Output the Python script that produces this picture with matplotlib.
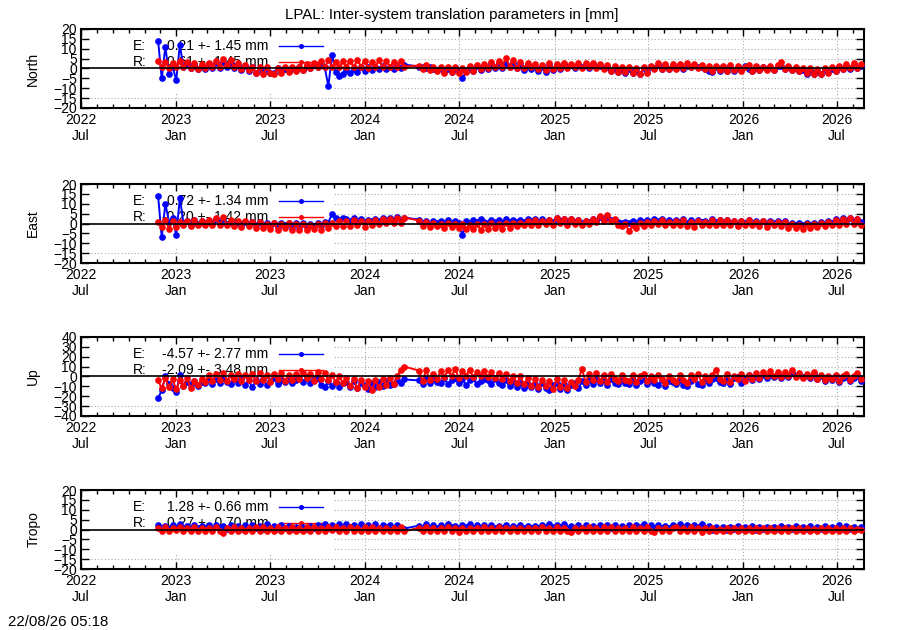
import numpy as np
import pandas as pd
import matplotlib
matplotlib.use('Agg')
import matplotlib.pyplot as plt
import matplotlib.dates as mdates
from matplotlib.patches import Rectangle
from matplotlib.lines import Line2D

plt.rcParams['font.family'] = ['Liberation Sans', 'DejaVu Sans']

nan = np.nan

# weekly samples, one row = 13 weeks
start_date = '2022-11-27'
end_date = '2026-08-16'

north_e = [
    [14.0, -5.0, 11.0, -3.0, 1.0, -6.0, 12.0, 0.5, 2.5, 0.0, 2.0, -0.5, 1.5],
    [-0.5, 2.5, 0.0, 3.0, 0.0, 3.5, 0.5, 3.0, 0.0, 2.0, -1.0, 1.5, -1.5],
    [1.0, -2.5, 0.0, -2.0, 0.0, -2.5, -2.5, 0.0, -2.0, -0.5, -1.5, 0.0, -1.0],
    [0.5, -1.0, 1.5, 0.0, 2.0, 0.5, 2.5, 0.5, -9.0, 7.0, -2.0, -4.0, -3.0],
    [-1.0, -2.5, -0.5, -2.0, 0.5, -1.5, 1.0, -1.0, 1.0, -0.5, 1.5, -0.5, 1.0],
    [-0.5, 1.5, 0.0, 2.0, nan, nan, nan, 1.0, 0.5, 0.0, 0.5, -0.5, -1.0],
    [0.0, -2.0, -0.5, -2.0, 0.0, -1.5, -5.0, -1.5, 1.0, -1.5, 1.5, -1.0, 1.5],
    [-0.5, 2.5, 0.0, 3.0, 0.0, 2.5, 0.5, 3.0, 0.0, 2.5, -1.0, 1.5, -0.5],
    [1.0, -1.5, 1.0, -2.0, 2.0, -1.0, 2.0, -0.5, 2.5, 0.5, 2.0, 0.0, 2.0],
    [0.5, 2.0, 0.0, 2.5, 0.5, 1.5, 0.0, 1.0, -1.5, 0.0, -2.0, -0.5, -2.5],
    [-0.5, -2.5, -0.5, -3.0, 0.0, -2.0, 0.5, 0.0, 2.0, -0.5, 2.0, -0.5, 1.5],
    [0.0, 2.0, -0.5, 1.5, 0.5, 2.0, 0.5, 1.0, -0.5, -1.5, -2.0, 0.5, -1.5],
    [1.0, -1.5, 1.5, -1.5, 1.0, -1.0, 1.5, -0.5, -1.5, 1.0, -1.0, 0.5, -0.5],
    [0.5, -1.0, 1.5, 1.5, -0.5, 0.5, -1.0, 0.0, -1.5, -1.0, -3.0, -1.0, -3.0],
    [-1.5, -3.0, -0.5, -2.0, -0.5, -1.5, 1.0, -0.5, 1.5, -0.5, 2.0, 0.0, 1.5],
]
north_r = [
    [4.0, 0.5, 3.5, 0.0, 3.0, 1.0, 4.0, 0.5, 3.5, 0.0, 3.0, -0.5, 2.5],
    [0.0, 3.0, 0.5, 4.0, 1.0, 5.0, 2.0, 4.5, 0.5, 3.0, -0.5, 2.0, -1.0],
    [1.0, -2.5, 0.5, -3.0, 0.5, -2.5, -3.0, 0.0, -2.5, 0.5, -2.0, 1.0, -1.5],
    [1.0, -1.0, 2.5, 0.0, 3.0, 1.0, 4.0, 0.5, 4.5, 1.0, 3.5, 0.5, 4.0],
    [1.0, 4.0, 0.5, 4.5, 1.0, 4.0, 0.0, 3.5, 1.0, 4.5, 0.5, 4.0, 1.0],
    [3.5, 0.5, 4.0, 1.0, nan, nan, nan, 1.5, -0.5, 2.0, -1.0, 1.0, -1.5],
    [0.5, -2.5, 1.0, -2.0, 0.5, -2.5, 0.0, -2.0, 1.5, -1.5, 2.0, -0.5, 2.5],
    [0.0, 3.5, 0.5, 4.0, 1.0, 5.5, 1.0, 4.5, 0.0, 3.5, 0.0, 3.0, 0.5],
    [2.5, -0.5, 2.0, -1.0, 3.0, -0.5, 2.5, 0.0, 3.0, 0.0, 2.5, 0.5, 3.0],
    [0.0, 3.0, 0.5, 3.0, 0.0, 2.5, -0.5, 2.0, -1.5, 1.5, -2.0, 0.5, -2.0],
    [0.5, -2.5, 0.0, -3.0, 0.5, -2.5, 1.5, -0.5, 3.0, -0.5, 2.5, -0.5, 2.5],
    [-0.5, 2.5, 0.0, 3.0, 0.5, 2.5, 0.0, 2.0, -0.5, 1.5, -1.5, 1.5, -1.0],
    [1.5, -1.5, 2.0, -1.0, 1.5, -1.5, 1.0, 2.0, -1.5, 1.5, -1.0, 1.0, -1.0],
    [1.5, -1.0, 2.0, 3.5, -0.5, 1.5, -1.0, 1.0, -1.5, 0.0, -2.5, 0.0, -3.0],
    [-0.5, -3.0, 0.0, -2.5, 0.5, -1.5, 1.5, -0.5, 2.5, 0.0, 3.0, 0.0, 2.5],
]

east_e = [
    [14.0, -7.0, 10.0, 1.0, 3.0, -6.0, 13.0, 0.0, 1.5, -0.5, 2.0, 0.0, 1.5],
    [0.0, 1.5, 0.5, 2.5, 0.0, 2.5, 0.0, 1.0, -0.5, 1.0, -0.5, 1.0, 0.0],
    [1.0, -1.0, 1.0, -1.0, 0.5, -1.5, 0.5, -2.0, 0.5, -1.0, 0.5, -2.0, 0.5],
    [-2.0, 0.5, -2.0, 0.0, -1.5, 0.5, -1.5, 1.0, 0.5, 5.0, 3.0, 2.0, 3.0],
    [2.5, 1.5, 3.0, 1.5, 2.5, 1.0, 2.0, 1.5, 2.5, 1.5, 3.0, 2.0, 3.0],
    [2.0, 3.5, 2.0, 3.0, nan, nan, nan, 2.0, 0.5, 1.5, 0.0, 1.5, 0.5],
    [1.5, 0.5, 2.0, 0.5, 1.5, 0.5, -6.0, 1.5, 0.5, 2.0, 1.0, 2.5, 1.0],
    [0.5, 2.0, 1.0, 2.0, 0.5, 2.5, 1.0, 2.0, 1.0, 2.0, 1.0, 2.5, 1.5],
    [2.5, 1.0, 2.5, 1.0, 2.0, 1.0, 3.0, 1.5, 2.5, 0.5, 2.5, 1.0, 2.0],
    [0.5, 1.5, 1.0, 2.5, 1.5, 3.5, 2.0, 4.0, 2.0, 2.0, 1.0, 0.5, 1.0],
    [0.5, 1.5, 0.5, 2.0, 1.0, 2.0, 1.0, 2.5, 1.5, 2.5, 1.0, 2.0, 1.0],
    [2.0, 1.0, 2.5, 0.5, 2.0, 0.5, 2.0, 1.0, 1.5, 0.5, 2.5, 1.0, 2.0],
    [0.5, 2.0, 0.0, 1.5, -0.5, 1.5, 0.5, 2.0, 0.5, 1.5, 0.0, 1.5, 0.0],
    [1.5, 0.5, 1.5, 0.5, 1.5, -0.5, 0.5, -1.0, 0.5, -1.0, 0.5, -0.5, 0.5],
    [-0.5, 1.0, 0.0, 1.5, 0.5, 2.5, 1.0, 3.0, 1.5, 3.0, 1.5, 2.5, 1.0],
]
east_r = [
    [1.0, -2.0, 2.0, -3.0, 1.5, -2.0, 1.0, -1.0, 1.5, -1.5, 2.0, -1.0, 1.5],
    [-1.0, 2.0, -0.5, 3.0, -1.0, 3.5, -1.0, 2.0, -1.5, 1.5, -2.0, 1.5, -1.5],
    [1.0, -2.5, 1.0, -2.5, 0.0, -3.0, 0.5, -3.5, 0.0, -2.5, 0.5, -3.5, 0.0],
    [-3.5, 0.0, -3.5, -0.5, -3.0, 0.0, -3.5, 0.5, -2.5, 0.5, -1.5, 1.5, -1.5],
    [1.5, -1.5, 2.0, -1.0, 1.5, -2.0, 1.5, -0.5, 2.0, 0.0, 2.5, 0.5, 2.5],
    [0.5, 3.0, 0.5, 3.0, nan, nan, nan, 1.5, -1.5, 1.0, -2.0, 0.5, -1.5],
    [0.0, -2.5, 0.5, -2.0, 0.0, -2.5, 0.0, -3.0, -0.5, -3.0, 0.0, -3.5, 0.0],
    [-3.0, 0.5, -2.5, 0.0, -3.0, 0.5, -2.5, 0.5, -1.5, 0.5, -1.0, 1.5, -0.5],
    [2.0, -0.5, 1.5, 0.0, 2.0, -0.5, 3.0, 0.5, 2.5, -0.5, 2.5, 0.0, 2.0],
    [-0.5, 1.5, 0.0, 2.5, 1.0, 4.0, 1.5, 4.5, 1.5, 2.5, -0.5, -1.5, 0.0],
    [-4.0, -1.0, -2.5, 0.5, -1.5, 1.0, -0.5, 1.5, 0.0, 2.0, -0.5, 1.0, -1.0],
    [1.5, -1.0, 2.0, -1.5, 1.0, -2.0, 1.5, -1.0, 1.0, -1.0, 2.0, -0.5, 2.0],
    [-0.5, 2.0, -1.0, 1.5, -1.5, 1.5, -0.5, 2.0, -1.0, 1.0, -1.5, 1.5, -2.0],
    [1.0, -1.0, 1.0, -1.5, 1.0, -2.5, 0.0, -2.5, -0.5, -3.0, 0.0, -2.5, 0.0],
    [-2.0, 0.5, -1.5, 1.0, -1.0, 2.0, -0.5, 2.5, 0.0, 3.0, 0.0, 2.5, -0.5],
]

up_e = [
    [-22, -14, 0, -8, -12, -16, 2, -10, -6, -9, -5, -10, -6],
    [-7, -3, -8, -3, -7, -2, -6, -8, -3, -7, -3, -9, -4],
    [-11, -4, -8, -3, -9, -5, -2, -8, -4, -6, -3, -7, -4],
    [-2, -6, -1, -7, -3, -2, -9, -11, -5, -10, -6, -11, -7],
    [-6, -11, -5, -12, -7, -10, -13, -7, -11, -6, -10, -5, -9],
    [-8, -4, -7, -3, nan, nan, nan, -4, -8, -2, -7, -3, -6],
    [-7, -2, -8, -4, -2, -7, -3, -9, -4, -2, -8, -5, -3],
    [-4, -8, -3, -7, -9, -4, -10, -6, -11, -7, -12, -8, -11],
    [-8, -13, -7, -12, -14, -9, -7, -13, -8, -14, -9, -7, -12],
    [-5, -9, -4, -8, -3, -7, -4, -9, -3, -7, -8, -4, -7],
    [-8, -4, -9, -5, -3, -8, -4, -7, -9, -4, -10, -5, -6],
    [-8, -4, -9, -10, -5, -3, -8, -9, -4, -7, -3, -2, -6],
    [-7, -3, -8, -2, -1, -7, -3, 2, -4, 1, -3, 2, -2],
    [2, -1, 3, -2, 2, -1, 4, 0, 3, -1, 2, -2, 3],
    [-3, 0, -5, -1, -4, 0, -6, -2, -1, -5, -2, 0, -5],
]
up_r = [
    [-4, -12, -2, -11, -3, -13, -4, -10, -2, -12, -5, -9, -3],
    [-6, 2, -5, 3, -4, 4, -5, 2, -3, 3, -5, 2, -4],
    [3, -5, 4, -4, 2, -6, 3, -3, 4, -5, 2, -4, 3],
    [-3, 4, -2, 3, -5, 5, -3, 4, -4, 2, -6, 1, -7],
    [-2, -10, -3, -12, -4, -11, -5, -14, -4, -11, -3, -9, -2],
    [-8, 0, 7, 10, nan, nan, nan, 6, -5, 7, -4, 3, -3],
    [6, -1, 7, 0, 8, -2, 6, 1, 7, -1, 5, 0, 6],
    [-1, 5, -2, 4, -3, 3, -5, 1, -7, 0, -8, -2, -10],
    [-3, -11, -4, -10, -5, -13, -3, -11, -4, -12, -6, -10, -4],
    [8, -6, 3, -4, 4, -5, 2, -6, 3, -3, -5, 2, -4],
    [-5, 2, -6, 1, 3, -5, 1, -4, 2, -3, -7, 1, -4],
    [-6, 2, -4, -7, 2, -3, 3, -6, 1, -4, 2, 7, -3],
    [-5, 3, -6, 1, -3, 3, -5, 2, -3, 4, -2, 5, 0],
    [6, 0, 5, -1, 5, 1, 7, -1, 4, -2, 3, -1, 5],
    [-3, 2, -4, 1, -3, 2, -5, 0, 3, -4, 1, 4, -3],
]

tropo_e = [
    [2.5, 1.0, 2.0, 0.5, 2.5, 1.0, 3.0, 1.0, 2.0, 0.5, 2.5, 1.0, 2.0],
    [1.0, 2.5, 0.5, 2.5, 1.0, 2.0, 0.5, 2.5, 1.0, 2.0, 0.5, 2.5, 1.0],
    [2.5, 1.0, 2.0, 0.5, 3.0, 1.0, 2.0, 0.5, 2.5, 1.0, 2.0, 0.5, 1.5],
    [0.5, 1.5, 0.5, 2.0, 1.0, 2.5, 1.5, 3.0, 1.0, 2.5, 1.0, 3.0, 1.5],
    [3.0, 1.5, 2.5, 1.0, 3.0, 1.5, 2.5, 1.0, 3.0, 1.0, 2.5, 1.5, 2.5],
    [1.0, 2.5, 1.0, 0.5, nan, nan, nan, 2.0, 1.0, 3.0, 1.0, 2.5, 1.0],
    [2.5, 1.0, 3.0, 1.5, 2.0, 1.0, 2.5, 1.5, 3.0, 1.0, 2.5, 1.0, 2.5],
    [1.0, 2.5, 1.0, 2.0, 1.0, 2.5, 0.5, 2.0, 1.0, 2.5, 1.0, 2.0, 1.0],
    [2.0, 1.0, 2.5, 1.5, 3.0, 1.5, 2.5, 1.5, 3.0, 1.0, 2.0, 1.0, 2.5],
    [1.0, 2.5, 1.0, 2.0, 1.0, 2.5, 1.0, 2.5, 1.0, 2.5, 1.0, 2.0, 1.0],
    [2.5, 1.0, 2.5, 1.5, 3.0, 1.0, 2.5, 1.0, 2.5, 1.0, 2.0, 1.0, 2.5],
    [1.5, 3.0, 1.5, 2.5, 1.0, 2.5, 1.5, 3.0, 1.0, 2.0, 0.0, 1.5, 0.5],
    [1.5, 0.0, 1.5, 0.5, 2.0, 0.5, 1.5, 0.5, 2.0, 0.0, 1.5, 0.5, 1.5],
    [0.5, 1.5, 0.5, 2.0, 1.0, 1.5, 0.5, 2.0, 0.5, 1.5, 0.5, 2.0, 0.5],
    [1.5, 0.5, 2.0, 0.5, 1.5, 0.5, 2.5, 0.5, 2.0, 0.5, 1.5, 0.5, 1.5],
]
tropo_r = [
    [1.0, -0.5, 1.5, -0.5, 1.0, 0.0, 1.5, -1.0, 1.0, -0.5, 1.5, -0.5, 1.0],
    [-0.5, 1.0, -1.0, 1.5, -1.0, -2.0, 1.0, -0.5, 1.5, -0.5, 1.0, -1.0, 1.0],
    [-0.5, 1.5, -1.0, 1.5, -0.5, 1.0, -0.5, 1.5, -1.0, 1.0, -0.5, 1.5, -0.5],
    [1.0, -0.5, 1.5, -1.0, 1.5, -0.5, 1.0, -1.0, 1.5, 0.0, 1.5, -0.5, 1.0],
    [-0.5, 1.5, -0.5, 1.0, -1.0, 1.5, -0.5, 1.5, -1.0, 1.0, -0.5, 1.0, -1.0],
    [1.0, -0.5, 1.5, -1.0, nan, nan, nan, 1.0, -0.5, 1.5, -0.5, 1.0, -0.5],
    [1.0, -1.0, 1.5, -1.0, 1.0, -1.5, 1.0, -0.5, 1.0, -1.0, 1.0, -1.0, 1.5],
    [-1.0, 1.0, -0.5, 1.5, -0.5, 1.0, -1.0, 1.0, -0.5, 1.0, -0.5, 1.0, -1.0],
    [1.0, -0.5, 1.5, -0.5, 1.0, -0.5, 1.5, -0.5, 1.0, -0.5, -1.5, 1.0, -0.5],
    [1.0, -0.5, 1.5, -0.5, 1.0, -1.0, 1.5, -0.5, 1.5, -0.5, 1.0, -1.0, 1.0],
    [-0.5, 1.5, -1.0, 1.0, -0.5, 1.5, -0.5, -1.5, 1.0, -0.5, 1.0, -0.5, 1.0],
    [1.5, -0.5, 1.0, -0.5, 1.5, -0.5, 1.0, -1.5, 1.0, -0.5, 1.0, -1.0, 0.5],
    [-0.5, 1.0, -1.0, 1.0, -1.0, 1.0, -0.5, 1.0, -1.0, 1.0, -0.5, 1.0, -0.5],
    [1.0, -0.5, 1.0, -1.0, 1.0, -0.5, 1.0, -1.0, 1.0, -0.5, 1.0, -0.5, 0.5],
    [-0.5, 1.0, -1.0, 1.0, -0.5, 1.0, -1.0, 1.0, -0.5, 1.0, -1.0, 0.5, 0.0],
]

panel_names = ['North', 'East', 'Up', 'Tropo']
ylims = [20, 20, 40, 20]
ysteps = [5, 5, 10, 5]
e_mean = [0.21, 0.72, -4.57, 1.28]
e_std = [1.45, 1.34, 2.77, 0.66]
r_mean = [0.61, -0.20, -2.09, 0.27]
r_std = [1.45, 1.42, 3.48, 0.70]

title = 'LPAL: Inter-system translation parameters in [mm]'
stamp = '22/08/26 05:18'


def flat(rows):
    return np.array(sum(rows, []), dtype=float)


def draw_panel(ax, dates, e, r, name, lim, step, e_lab, r_lab):
    n = min(len(dates), len(e), len(r))
    d = dates[:n]
    e = e[:n]
    r = r[:n]
    ax.set_xlim(pd.Timestamp('2022-07-01'), pd.Timestamp('2026-08-22'))
    ax.set_ylim(-lim, lim)
    ax.set_yticks(np.arange(-lim, lim + 1, step))
    ax.xaxis.set_major_locator(mdates.MonthLocator(bymonth=[1, 7]))
    ax.xaxis.set_major_formatter(mdates.DateFormatter('%Y\n%b'))
    ax.xaxis.set_minor_locator(mdates.MonthLocator())
    ax.tick_params(which='both', direction='in', top=True, right=True, labelsize=10, width=1)
    ax.tick_params(which='major', length=5)
    ax.tick_params(which='minor', length=3)
    ax.tick_params(axis='y', which='major', length=6, pad=3)
    for s in ax.spines.values():
        s.set_linewidth(1.5)

    # dotted grid, partly hidden behind the key box like gnuplot does
    for v in ax.get_yticks()[1:-1]:
        ax.axhline(v, color='#aaaaaa', lw=0.8, ls=(0, (1, 2)), zorder=0.8)
    for v in ax.get_xticks()[1:]:
        ax.axvline(v, color='#aaaaaa', lw=0.8, ls=(0, (1, 2)), zorder=0.8)
    ax.add_patch(Rectangle((0.008, 0.19), 0.314, 0.73, transform=ax.transAxes,
                           fc='white', ec='none', zorder=1.2))

    ok = np.isfinite(e)
    ax.plot(d[ok], e[ok], color='blue', lw=1.4, marker='o', ms=3.8, zorder=3)
    ok = np.isfinite(r)
    ax.plot(d[ok], r[ok], color='red', lw=1.4, marker='o', ms=3.8, zorder=3.5)
    ax.axhline(0, color='black', lw=1.2, zorder=5)

    # key
    for yy, tag, lab, col in [(0.789, 'E:', e_lab, 'blue'), (0.582, 'R:', r_lab, 'red')]:
        ax.text(0.066, yy, tag, transform=ax.transAxes, ha='left', va='center',
                fontsize=10, zorder=1.6)
        ax.text(0.239, yy, lab, transform=ax.transAxes, ha='right', va='center',
                fontsize=10, zorder=1.6)
        ax.add_artist(Line2D([0.253, 0.309], [yy, yy], transform=ax.transAxes,
                             color=col, lw=1, zorder=1.7))
        ax.add_artist(Line2D([0.281], [yy], transform=ax.transAxes, color=col,
                             marker='o', ms=2.6, zorder=1.7))

    ax.set_ylabel(name, fontsize=10)
    ax.yaxis.set_label_coords(-0.052, 0.5)


dates = pd.date_range(start_date, end_date, freq='7D')
series = [(north_e, north_r), (east_e, east_r), (up_e, up_r), (tropo_e, tropo_r)]
bottoms = [0.8286, 0.5825, 0.3397, 0.0968]

fig = plt.figure(figsize=(9, 6.3), dpi=100)
for i, (es, rs) in enumerate(series):
    ax = fig.add_axes([0.09, bottoms[i], 0.87, 0.1254])
    e_lab = '%.2f +- %.2f mm' % (e_mean[i], e_std[i])
    r_lab = '%.2f +- %.2f mm' % (r_mean[i], r_std[i])
    draw_panel(ax, dates, flat(es), flat(rs), panel_names[i], ylims[i], ysteps[i], e_lab, r_lab)

fig.text(0.502, 0.976, title, ha='center', va='center', fontsize=10.8)
fig.text(8 / 900, 1 - 622 / 630, stamp, ha='left', va='center', fontsize=10.8)

fig.savefig('out.png', dpi=100)
